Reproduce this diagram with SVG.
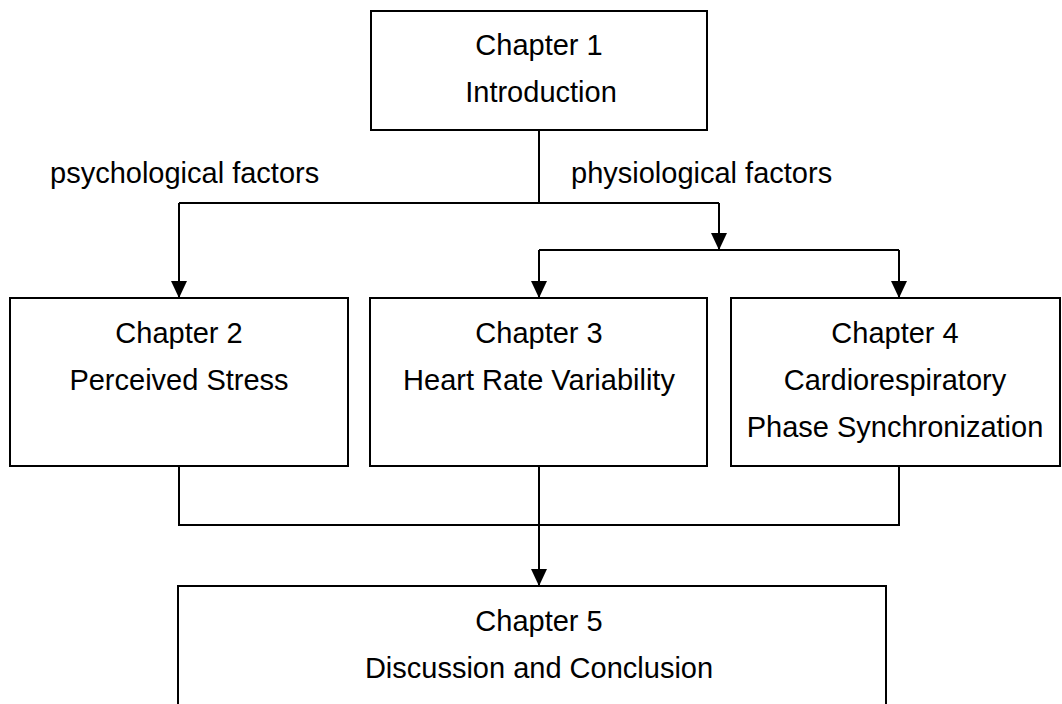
<svg xmlns="http://www.w3.org/2000/svg" width="1062" height="704" viewBox="0 0 1062 704">
<style>
.box{fill:#ffffff;stroke:#000000;stroke-width:2}
.t{font-family:"Liberation Sans",Arial,sans-serif;font-size:29px;fill:#000000}
.c{text-anchor:middle}
.ln{fill:none;stroke:#000000;stroke-width:2}
</style>
<defs>
<marker id="ah" markerWidth="16" markerHeight="17" refX="8" refY="17" orient="0" markerUnits="userSpaceOnUse" viewBox="0 0 16 17">
<path d="M0,0 L16,0 L8,17 Z" fill="#000000"/>
</marker>
</defs>
<rect width="1062" height="704" fill="#ffffff"/>
<g id="connectors">
<path class="ln" d="M539,130 V203"/>
<path class="ln" d="M179,203 H719"/>
<path class="ln" d="M179,203 V298" marker-end="url(#ah)"/>
<path class="ln" d="M719,203 V250" marker-end="url(#ah)"/>
<path class="ln" d="M539,250 H899"/>
<path class="ln" d="M539,250 V298" marker-end="url(#ah)"/>
<path class="ln" d="M899,250 V298" marker-end="url(#ah)"/>
<path class="ln" d="M179,466 V525 H899 V466"/>
<path class="ln" d="M539,466 V586" marker-end="url(#ah)"/>
</g>
<g id="label-psych"><text class="t" x="50" y="183">psychological factors</text></g>
<g id="label-phys"><text class="t" x="571" y="183">physiological factors</text></g>
<g id="ch1">
<rect class="box" x="371" y="11" width="336" height="119"/>
<text class="t c" x="539" y="55">Chapter 1</text>
<text class="t c" x="541" y="102">Introduction</text>
</g>
<g id="ch2">
<rect class="box" x="10" y="298" width="338" height="168"/>
<text class="t c" x="179" y="343">Chapter 2</text>
<text class="t c" x="179" y="390">Perceived Stress</text>
</g>
<g id="ch3">
<rect class="box" x="370" y="298" width="337" height="168"/>
<text class="t c" x="539" y="343">Chapter 3</text>
<text class="t c" x="539" y="390">Heart Rate Variability</text>
</g>
<g id="ch4">
<rect class="box" x="731" y="298" width="329" height="168"/>
<text class="t c" x="895" y="343">Chapter 4</text>
<text class="t c" x="895" y="390">Cardiorespiratory</text>
<text class="t c" x="895" y="437">Phase Synchronization</text>
</g>
<g id="ch5">
<rect class="box" x="178" y="586" width="708" height="130"/>
<text class="t c" x="539" y="631">Chapter 5</text>
<text class="t c" x="539" y="678">Discussion and Conclusion</text>
</g>
</svg>
